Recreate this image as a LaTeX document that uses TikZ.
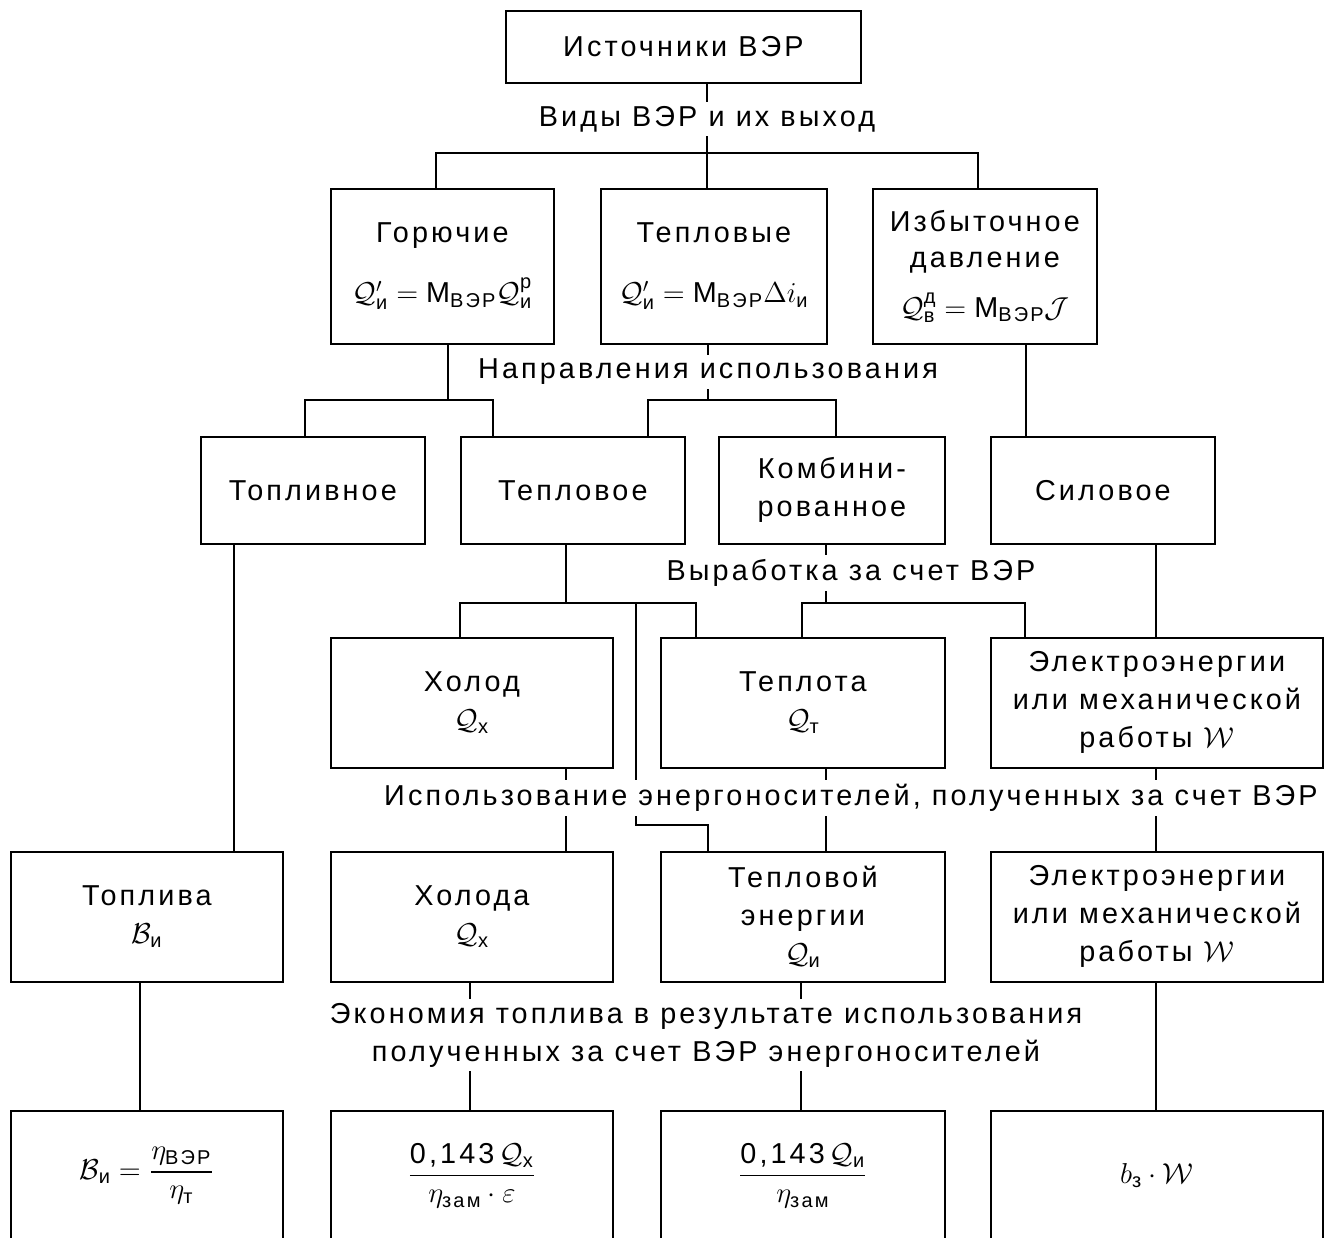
\documentclass[tikz,border=0pt]{standalone}
\usepackage{amsmath}
\usepackage{fontspec}
\setmainfont{Liberation Sans}[LetterSpace=10.8]
\begin{document}
\begin{tikzpicture}[x=0.5pt,y=-0.5pt,
  every node/.style={font=\fontsize{14.4}{19}\selectfont},
  box/.style={draw, line width=0.9pt, inner sep=0pt, align=center, anchor=north west},
  lbl/.style={fill=white, inner sep=2pt, align=center},
  wire/.style={line width=0.9pt}]
\useasboundingbox (0,0) rectangle (1327,1237);
\clip (0,0) rectangle (1327,1237);

% top level
\node[box, minimum width=177.5pt, minimum height=36pt] (src) at (505,10) {Источники ВЭР};

% kinds of secondary energy resources
\node[box, minimum width=111.5pt, minimum height=77.5pt] (gor) at (330,188)
  {Горючие\\[11pt] $\mathcal{Q}'_{\text{и}}=\text{М}_{\text{ВЭР}}\mathcal{Q}^{\text{р}}_{\text{и}}$};
\node[box, minimum width=113pt, minimum height=77.5pt] (tep) at (600,188)
  {Тепловые\\[11pt] $\mathcal{Q}'_{\text{и}}=\text{М}_{\text{ВЭР}}\Delta i_{\text{и}}$};
\node[box, minimum width=112pt, minimum height=77.5pt] (izb) at (872,188)
  {Избыточное\\[-1pt]давление\\[6pt] $\mathcal{Q}^{\text{д}}_{\text{в}}=\text{М}_{\text{ВЭР}}\mathcal{J}$};

% directions of use
\node[box, minimum width=112pt, minimum height=53.5pt] (top) at (200,436) {Топливное};
\node[box, minimum width=112pt, minimum height=53.5pt] (tepl) at (460,436) {Тепловое};
\node[box, minimum width=113pt, minimum height=53.5pt] (komb) at (718,436) {Комбини-\\рованное};
\node[box, minimum width=112pt, minimum height=53.5pt] (sil) at (990,436) {Силовое};

% output
\node[box, minimum width=141pt, minimum height=65pt] (hol) at (330,637) {Холод\\$\mathcal{Q}_{\text{х}}$};
\node[box, minimum width=142pt, minimum height=65pt] (teplota) at (660,637) {Теплота\\$\mathcal{Q}_{\text{т}}$};
\node[box, minimum width=166pt, minimum height=65pt] (el1) at (990,637) {Электроэнергии\\или механической\\работы $\mathcal{W}$};

% use of energy carriers
\node[box, minimum width=136pt, minimum height=65pt] (topl) at (10,851) {Топлива\\$\mathcal{B}_{\text{и}}$};
\node[box, minimum width=141pt, minimum height=65pt] (holoda) at (330,851) {Холода\\$\mathcal{Q}_{\text{х}}$};
\node[box, minimum width=142pt, minimum height=65pt] (tepen) at (660,851) {Тепловой\\энергии\\$\mathcal{Q}_{\text{и}}$};
\node[box, minimum width=166pt, minimum height=65pt] (el2) at (990,851) {Электроэнергии\\или механической\\работы $\mathcal{W}$};

% fuel savings
\node[box, minimum width=136pt, minimum height=65pt] (r6a) at (10,1110)
  {$\mathcal{B}_{\text{и}}=\dfrac{\eta_{\text{ВЭР}}}{\eta_{\text{т}}}$};
\node[box, minimum width=141pt, minimum height=65pt] (r6b) at (330,1110)
  {$\dfrac{\text{0,143}\,\mathcal{Q}_{\text{х}}}{\eta_{\text{зам}}\cdot\varepsilon}$};
\node[box, minimum width=142pt, minimum height=65pt] (r6c) at (660,1110)
  {$\dfrac{\text{0,143}\,\mathcal{Q}_{\text{и}}}{\eta_{\text{зам}}}$};
\node[box, minimum width=166pt, minimum height=65pt] (r6d) at (990,1110)
  {$b_{\text{з}}\cdot\mathcal{W}$};

% connectors: sources -> kinds
\coordinate (a1) at (707,153); \coordinate (a1l) at (436,153); \coordinate (a1r) at (978,153);
\draw[wire] (src.south -| a1) -- (a1);
\draw[wire] (a1l |- gor.north) -- (a1l) -- (a1r) -- (a1r |- izb.north);
\draw[wire] (a1) -- (a1 |- tep.north);

% kinds -> directions
\coordinate (b1) at (448,400); \coordinate (b1l) at (305,400); \coordinate (b1r) at (493,400);
\draw[wire] (gor.south -| b1) -- (b1);
\draw[wire] (b1l |- top.north) -- (b1l) -- (b1r) -- (b1r |- tepl.north);
\coordinate (b2) at (708,400); \coordinate (b2l) at (648,400); \coordinate (b2r) at (836,400);
\draw[wire] (tep.south -| b2) -- (b2);
\draw[wire] (b2l |- tepl.north) -- (b2l) -- (b2r) -- (b2r |- komb.north);
\coordinate (b3) at (1026,0);
\draw[wire] (izb.south -| b3) -- (sil.north -| b3);

% directions -> output
\coordinate (c0) at (234,0);
\draw[wire] (top.south -| c0) -- (topl.north -| c0);
\coordinate (c1) at (566,603); \coordinate (c1l) at (460,603); \coordinate (c1r) at (696,603);
\coordinate (c1m) at (636,603); \coordinate (c1k) at (708,825);
\draw[wire] (tepl.south -| c1) -- (c1);
\draw[wire] (c1l |- hol.north) -- (c1l) -- (c1r) -- (c1r |- teplota.north);
\draw[wire] (c1m) -- (c1m |- c1k) -- (c1k) -- (c1k |- tepen.north);
\coordinate (c2) at (826,603); \coordinate (c2l) at (802,603); \coordinate (c2r) at (1025,603);
\draw[wire] (komb.south -| c2) -- (c2);
\draw[wire] (c2l |- teplota.north) -- (c2l) -- (c2r) -- (c2r |- el1.north);
\coordinate (c3) at (1156,0);
\draw[wire] (sil.south -| c3) -- (el1.north -| c3);

% output -> use
\draw[wire] (hol.south -| c1) -- (holoda.north -| c1);
\draw[wire] (teplota.south -| c2) -- (tepen.north -| c2);
\draw[wire] (el1.south -| c3) -- (el2.north -| c3);

% use -> savings
\coordinate (d0) at (140,0); \coordinate (d1) at (470,0); \coordinate (d2) at (801,0);
\draw[wire] (topl.south -| d0) -- (r6a.north -| d0);
\draw[wire] (holoda.south -| d1) -- (r6b.north -| d1);
\draw[wire] (tepen.south -| d2) -- (r6c.north -| d2);
\draw[wire] (el2.south -| c3) -- (r6d.north -| c3);

% level captions over the connectors
\node[lbl] (l1) at (707,119) {Виды ВЭР и их выход};
\node[lbl] (l2) at (708,372) {Направления использования};
\node[lbl] (l3) at (851,573) {Выработка за счет ВЭР};
\node[lbl] (l4) at (851,798) {Использование энергоносителей, полученных за счет ВЭР};
\node[lbl] (l5) at (706,1035) {Экономия топлива в результате использования\\полученных за счет ВЭР энергоносителей};
\end{tikzpicture}
\end{document}
